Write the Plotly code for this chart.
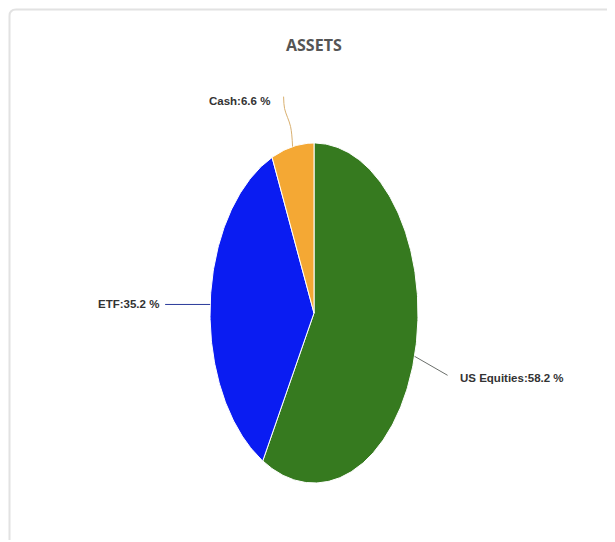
import numpy as np
import plotly.graph_objects as go

# chart data
labels = ['US Equities', 'ETF', 'Cash']
shares = [58.2, 35.2, 6.6]
colors = ['#367a1f', '#0a1cf2', '#f4a834']
line_colors = ['#6b6f6b', '#2a3a9a', '#d9b070']
title = 'ASSETS'

W, H = 615, 542
PAD = 8  # page body margin
# ellipse (the reference is stretched vertically)
CX, CY, RX, RY = 314, 313, 104, 170

# where each label sits, relative to its slice edge point (px)
label_offsets = {'US Equities': (33, 19), 'ETF': (-45, 0), 'Cash': (-9, -50)}
label_font = dict(family='Liberation Sans, Arial', size=11.5, color='#333333')


def edge_point(frac):
    # frac: 0 at 12 o'clock, going clockwise
    a = 2 * np.pi * frac
    return CX + RX * np.sin(a), CY - RY * np.cos(a)


fig = go.Figure()

start = 0.0
total = sum(shares)
for name, val, col, lcol in zip(labels, shares, colors, line_colors):
    f0 = start / total
    f1 = (start + val) / total
    ts = np.linspace(f0, f1, max(int(val * 4), 20))
    xs = [CX] + [edge_point(t)[0] for t in ts] + [CX]
    ys = [CY] + [edge_point(t)[1] for t in ts] + [CY]
    fig.add_trace(go.Scatter(x=xs, y=ys, mode='lines', fill='toself', fillcolor=col,
                             line=dict(color='white', width=1), hoverinfo='text',
                             text=f'{name}: {val} %', showlegend=False))

    # connector + label
    mid = (f0 + f1) / 2
    ex, ey = edge_point(mid)
    dx, dy = label_offsets[name]
    lx, ly = ex + dx, ey + dy
    txt = f'<b>{name}:{val} %</b>'
    if name == 'Cash':
        # curved connector going up
        cxs = [ex, ex - 2, lx + 1, lx]
        cys = [ey, ey - 20, ly + 12, ly]
        fig.add_trace(go.Scatter(x=cxs, y=cys, mode='lines', line=dict(color=lcol, width=1, shape='spline'),
                                 hoverinfo='skip', showlegend=False))
        fig.add_annotation(x=lx - 12, y=ly + 4, text=txt, showarrow=False,
                           xanchor='right', yanchor='middle', font=label_font)
    else:
        fig.add_trace(go.Scatter(x=[ex, lx], y=[ey, ly], mode='lines', line=dict(color=lcol, width=1),
                                 hoverinfo='skip', showlegend=False))
        if dx < 0:
            fig.add_annotation(x=lx - 4, y=ly, text=txt, showarrow=False,
                               xanchor='right', yanchor='middle', font=label_font)
        else:
            fig.add_annotation(x=lx + 10, y=ly + 3, text=txt, showarrow=False,
                               xanchor='left', yanchor='middle', font=label_font)
    start += val

# card outline
fig.add_shape(type='path', xref='x', yref='y',
              path='M 9.5 540 L 9.5 16 Q 9.5 9.5 16 9.5 L 640 9.5',
              line=dict(color='#e2e2e2', width=2))

fig.update_layout(
    width=W - PAD, height=H - PAD,
    margin=dict(l=0, r=0, t=0, b=0),
    paper_bgcolor='white', plot_bgcolor='white',
    xaxis=dict(range=[PAD, W], visible=False, fixedrange=True),
    yaxis=dict(range=[H, PAD], visible=False, fixedrange=True),
    annotations=list(fig.layout.annotations) + [
        dict(text=f'<b>{title}</b>', x=314, y=45, xref='x', yref='y', showarrow=False,
             font=dict(family='Open Sans, DejaVu Sans', size=16, color='#555555'))
    ],
)

fig.write_html('out.html')
